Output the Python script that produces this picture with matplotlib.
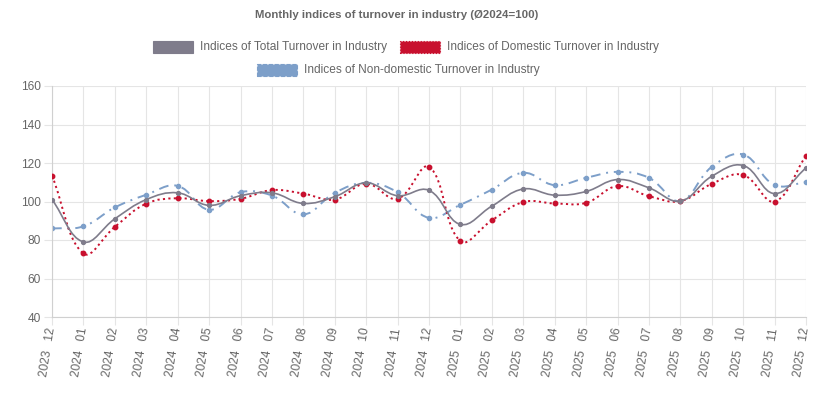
"""
Monthly indices of turnover in industry, redrawn with matplotlib.
"""

import numpy as np
import matplotlib
matplotlib.use("Agg")
import matplotlib.pyplot as plt
from matplotlib.path import Path
from matplotlib.patches import PathPatch, Rectangle


MONTHS = [
    "2023   12",
    "2024   01", "2024   02", "2024   03", "2024   04", "2024   05", "2024   06",
    "2024   07", "2024   08", "2024   09", "2024   10", "2024   11", "2024   12",
    "2025   01", "2025   02", "2025   03", "2025   04", "2025   05", "2025   06",
    "2025   07", "2025   08", "2025   09", "2025   10", "2025   11", "2025   12",
]

TOTAL = [
    101.0, 79.0, 91.0, 101.0, 104.5, 98.0, 103.0, 104.5, 99.0, 102.5, 109.7, 103.0,
    105.8, 88.1, 97.6, 106.5, 103.3, 105.2, 111.4, 107.1, 100.2, 113.1, 118.7,
    104.1, 117.4,
]

DOMESTIC = [
    113.4, 73.0, 86.8, 98.9, 101.7, 100.2, 101.4, 105.9, 104.1, 101.0, 109.3, 101.4,
    118.0, 79.4, 90.2, 99.7, 99.0, 99.3, 108.0, 102.8, 100.2, 109.2, 113.8,
    100.0, 123.8,
]

NON_DOMESTIC = [
    86.0, 87.1, 96.9, 103.5, 108.1, 95.7, 104.8, 103.1, 93.3, 104.5, 109.7, 104.8,
    91.5, 98.3, 106.2, 114.9, 108.5, 112.3, 115.4, 112.3, 100.2, 118.0, 124.4,
    108.6, 110.0,
]

SERIES_NAMES = [
    "Indices of Total Turnover in Industry",
    "Indices of Domestic Turnover in Industry",
    "Indices of Non-domestic Turnover in Industry",
]

Y_TICKS = [40, 60, 80, 100, 120, 140, 160]

GRAY = "#7f7c8b"
RED = "#c8102e"
BLUE = "#7d9fc9"
TEXT = "#666666"
GRID = "#e5e5e5"

W, H = 832, 398


def smooth_path(ax, xs, ys, tension=0.4):
    """Bezier path through the points, control points like Chart.js splineCurve."""
    pts = ax.transData.transform(np.column_stack([xs, ys]))
    n = len(pts)
    ctrl_prev = np.zeros_like(pts)
    ctrl_next = np.zeros_like(pts)
    for i in range(n):
        prev = pts[max(i - 1, 0)]
        cur = pts[i]
        nxt = pts[min(i + 1, n - 1)]
        d01 = np.hypot(*(cur - prev))
        d12 = np.hypot(*(nxt - cur))
        tot = d01 + d12
        s01 = d01 / tot if tot else 0
        s12 = d12 / tot if tot else 0
        ctrl_prev[i] = cur - tension * s01 * (nxt - prev)
        ctrl_next[i] = cur + tension * s12 * (nxt - prev)

    verts = [pts[0]]
    codes = [Path.MOVETO]
    for i in range(n - 1):
        verts += [ctrl_next[i], ctrl_prev[i + 1], pts[i + 1]]
        codes += [Path.CURVE4] * 3
    inv = ax.transData.inverted()
    return Path(inv.transform(np.array(verts)), codes)


plt.rcParams["font.family"] = ["Liberation Sans", "DejaVu Sans"]

fig = plt.figure(figsize=(W / 100, H / 100), dpi=100)
ax = fig.add_axes([52 / W, 1 - 317 / H, 754 / W, 231 / H])

x = np.arange(len(MONTHS))
ax.set_xlim(0, len(MONTHS) - 1)
ax.set_ylim(40, 160)

styles = [
    (TOTAL, GRAY, "-", 1.2, 2.8, 4),
    (DOMESTIC, RED, (0, (1.1, 1.7)), 1.4, 3.2, 3),
    (NON_DOMESTIC, BLUE, (0, (5, 3, 1, 3)), 1.4, 3.0, 2),
]
for values, color, ls, lw, ms, z in styles:
    path = smooth_path(ax, x, values)
    ax.add_patch(PathPatch(path, fill=False, edgecolor=color, linewidth=lw,
                           linestyle=ls, zorder=z))
    ax.plot(x, values, linestyle="none", marker="o", markersize=ms,
            color=color, zorder=z)

ax.set_xticks(x)
ax.set_xticklabels(MONTHS, rotation=81, ha="right", va="center",
                   rotation_mode="anchor", fontsize=8.6, color=TEXT)
ax.set_yticks(Y_TICKS)
ax.set_yticklabels([str(v) for v in Y_TICKS], fontsize=8.6, color=TEXT)
ax.tick_params(axis="both", length=6, color=GRID, width=0.8)
ax.tick_params(axis="x", pad=2)
ax.tick_params(axis="y", pad=2)
ax.grid(True, color=GRID, linewidth=0.8)
ax.set_axisbelow(True)
for side in ["top", "right"]:
    ax.spines[side].set_visible(False)
ax.spines["left"].set_color("#d0d0d0")
ax.spines["bottom"].set_color("#d0d0d0")

fig.text(397 / W, 1 - 15 / H, "Monthly indices of turnover in industry (Ø2024=100)",
         ha="center", va="center", fontsize=8.2, fontweight="bold", color=TEXT)

# legend, drawn by hand so the two rows centre like the original
legend_items = [
    (SERIES_NAMES[0], GRAY, "-", 153, 47),
    (SERIES_NAMES[1], RED, ":", 400, 47),
    (SERIES_NAMES[2], BLUE, "--", 257, 70),
]
for label, color, ls, left, yc in legend_items:
    fig.patches.append(Rectangle((left / W, 1 - (yc + 6) / H), 40 / W, 12 / H,
                                 transform=fig.transFigure, facecolor=color,
                                 edgecolor=color, linestyle=ls, linewidth=0.8))
    fig.text((left + 47) / W, 1 - yc / H, label, ha="left", va="center",
             fontsize=8.6, color=TEXT)

fig.savefig("out.png", dpi=100)
plt.close(fig)
